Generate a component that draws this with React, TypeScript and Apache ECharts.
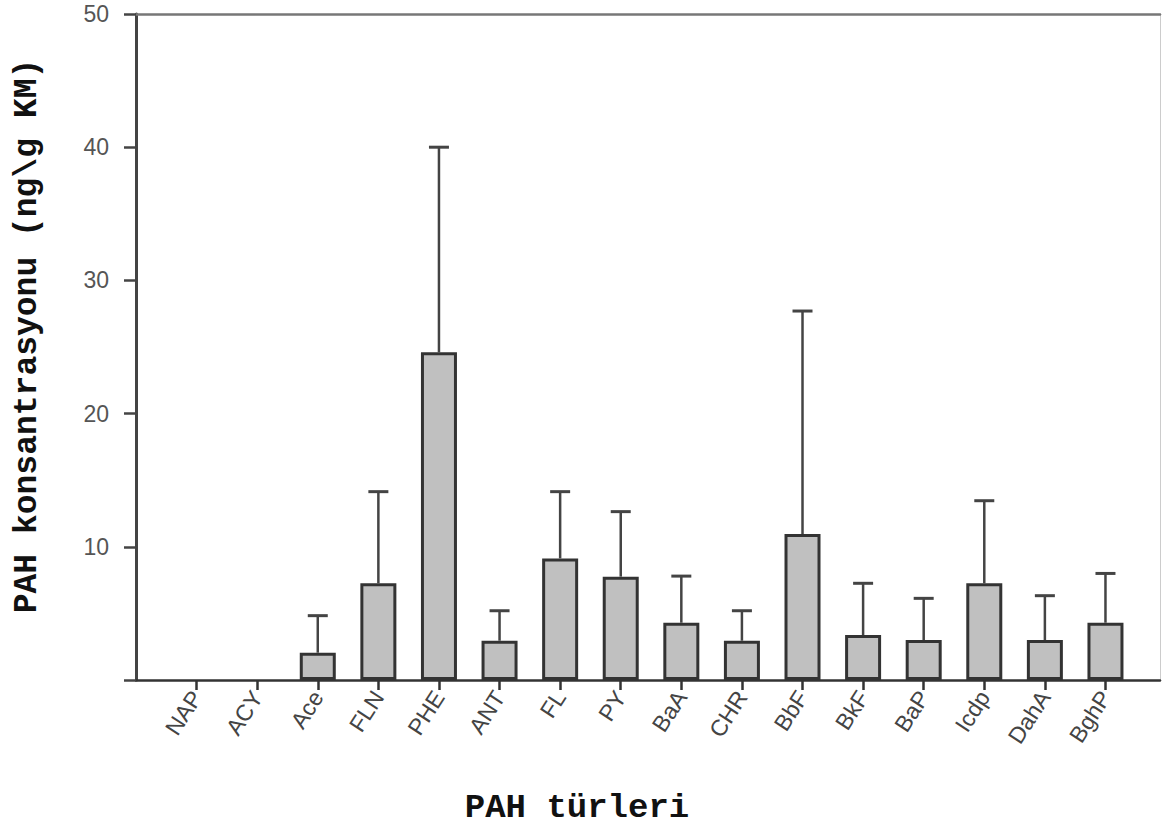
import React, { useEffect, useRef } from "react";
import * as echarts from "echarts";

const categories = ["NAP", "ACY", "Ace", "FLN", "PHE", "ANT", "FL", "PY", "BaA", "CHR", "BbF", "BkF", "BaP", "Icdp", "DahA", "BghP"];
const means = [0, 0, 2.05, 7.26, 24.6, 2.95, 9.13, 7.76, 4.3, 2.95, 10.96, 3.38, 3.0, 7.26, 3.0, 4.3];
const sds = [0, 0, 2.78, 6.88, 15.4, 2.25, 5.01, 4.88, 3.5, 2.25, 16.74, 3.88, 3.13, 6.2, 3.33, 3.7];
const yTitle = "PAH konsantrasyonu (ng\\g KM)";
const xTitle = "PAH türleri";

export default function App() {
  const ref = useRef<HTMLDivElement>(null);
  useEffect(() => {
    if (!ref.current) return;
    const chart = echarts.init(ref.current, null, { renderer: "svg" });
    const idx = categories.map((_, i) => i);
    const barData = means.map((m, i) => [i, m]).filter((d) => d[1] > 0);
    const errData = means.map((m, i) => [i, m, m + sds[i]]).filter((d) => d[1] > 0);
    chart.setOption({
      animation: false,
      backgroundColor: "#ffffff",
      grid: { left: 136, top: 14, width: 1024, height: 666 },
      xAxis: [
        {
          type: "value",
          min: -1,
          max: 15.9,
          position: "bottom",
          axisLine: { show: true, onZero: false, lineStyle: { color: "#333", width: 2.5 } },
          splitLine: { show: false },
          axisTick: { show: true, customValues: idx, length: 10, lineStyle: { color: "#333", width: 2.5 } },
          axisLabel: {
            customValues: idx,
            formatter: (v: number) => categories[Math.round(v)] ?? "",
            rotate: 57,
            margin: 13,
            color: "#444",
            fontSize: 23,
            fontFamily: "Liberation Sans",
          },
        },
        {
          type: "value",
          min: -1,
          max: 15.9,
          position: "top",
          axisLine: { show: true, onZero: false, lineStyle: { color: "#777", width: 2.5 } },
          axisTick: { show: false },
          axisLabel: { show: false },
          splitLine: { show: false },
        },
      ],
      yAxis: [
        {
          type: "value",
          min: 0,
          max: 50,
          interval: 10,
          axisLine: { show: true, onZero: false, lineStyle: { color: "#444", width: 3 } },
          axisTick: { show: true, length: 12, lineStyle: { color: "#444", width: 2.5 } },
          axisLabel: {
            margin: 27,
            color: "#555",
            fontSize: 23,
            fontFamily: "Liberation Sans",
            formatter: (v: number) => (v === 0 ? "" : String(v)),
          },
          splitLine: { show: false },
        },
        {
          type: "value",
          min: 0,
          max: 50,
          position: "right",
          axisLine: { show: true, onZero: false, lineStyle: { color: "#cccccc", width: 1 } },
          axisTick: { show: false },
          axisLabel: { show: false },
          splitLine: { show: false },
        },
      ],
      series: [
        {
          type: "custom",
          xAxisIndex: 0,
          yAxisIndex: 0,
          z: 1,
          data: errData,
          encode: { x: 0, y: [1, 2] },
          renderItem: (params: any, api: any) => {
            const x = api.value(0);
            const p0 = api.coord([x, api.value(1)]);
            const p1 = api.coord([x, api.value(2)]);
            const hw = 10;
            return {
              type: "group",
              children: [
                { type: "line", shape: { x1: p0[0], y1: p0[1], x2: p1[0], y2: p1[1] }, style: { stroke: "#444", lineWidth: 2.5 } },
                { type: "line", shape: { x1: p1[0] - hw, y1: p1[1], x2: p1[0] + hw, y2: p1[1] }, style: { stroke: "#444", lineWidth: 3 } },
              ],
            };
          },
        },
        {
          type: "bar",
          xAxisIndex: 0,
          yAxisIndex: 0,
          z: 3,
          data: barData,
          barWidth: 36,
          itemStyle: { color: "#c0c0c0", borderColor: "#333", borderWidth: 3 },
        },
      ],
      graphic: [
        {
          type: "text",
          x: 27,
          y: 336,
          rotation: Math.PI / 2,
          style: {
            text: yTitle,
            font: 'bold 33px "Liberation Mono"',
            fill: "#111",
            align: "center",
            verticalAlign: "middle",
          },
        },
        {
          type: "text",
          x: 577,
          y: 808,
          style: {
            text: xTitle,
            font: 'bold 34px "Liberation Mono"',
            fill: "#111",
            align: "center",
            verticalAlign: "middle",
          },
        },
      ],
    });
    return () => chart.dispose();
  }, []);
  return <div ref={ref} style={{ position: "absolute", left: 0, top: 0, width: 1163, height: 828 }} />;
}
